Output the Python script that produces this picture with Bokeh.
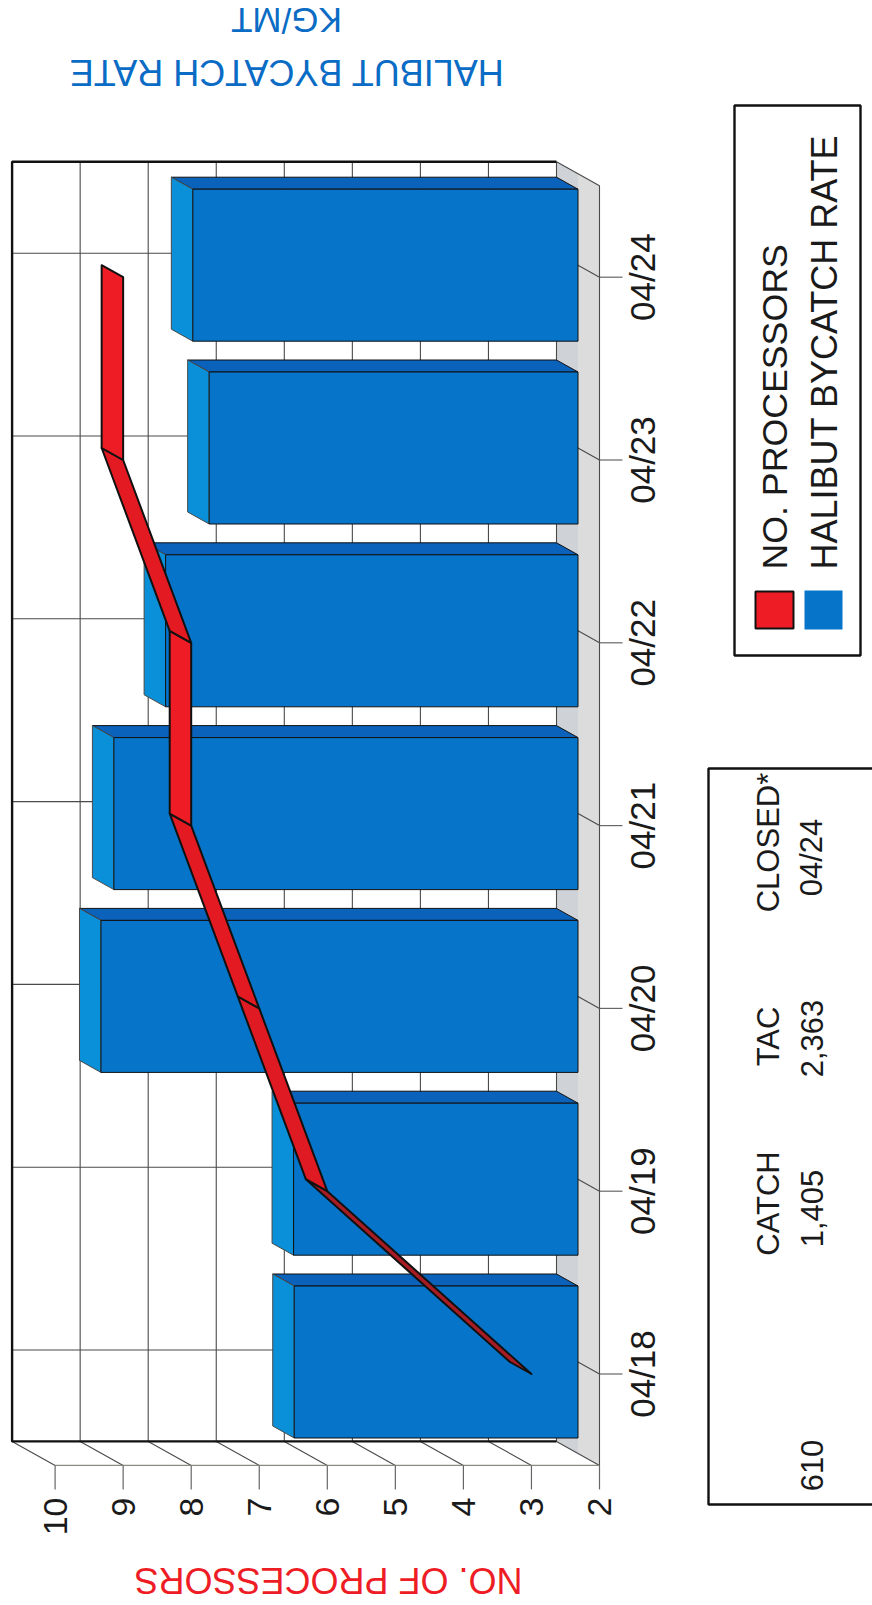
from math import pi
from bokeh.plotting import figure
from bokeh.models import Range1d
from bokeh.core.properties import value
from bokeh.embed import file_html
from bokeh.resources import INLINE

# ---- data ----
DATES = ["04/18", "04/19", "04/20", "04/21", "04/22", "04/23", "04/24"]
PROCESSORS = [3, 6, 7, 8, 8, 9, 9]
BYCATCH = [6.17, 6.18, 9.01, 8.82, 8.06, 7.42, 7.66]
VALUE_TICKS = [2, 3, 4, 5, 6, 7, 8, 9, 10]
TABLE_HEAD = ["CATCH", "TAC", "CLOSED*"]
TABLE_ROW = ["1,405", "2,363", "04/24"]
TABLE_EXTRA = "610"

# ---- geometry of the pseudo-3D projection (style, not data) ----
PXV = 68.05        # px per value unit
PXI = 182.8        # px per category
X0, Y0 = 599, 1373.5   # pixel of value 2 / category 0 on the front plane
DV = 43 / PXV      # depth shift of back wall, value units
DI = 24 / PXI      # depth shift of back wall, category units
HALF = 76 / PXI

W, H = 872, 1605

BLACK = "#111111"
LINE = "#4a4a4a"
INK = "#1a1a1a"
RED = "#ee1c25"
BLUE_T = "#0a6cc4"
BLUE_F = "#0675c9"
BLUE_S = "#0b62bb"
BLUE_L = "#0a90d8"
FONT = value("Liberation Sans")


def vx(px):
    return 2 + (X0 - px) / PXV


def iy(py):
    return (Y0 - py) / PXI


p = figure(
    width=W, height=H, output_backend="svg", toolbar_location=None,
    x_range=Range1d(vx(0), vx(W)), y_range=Range1d(iy(H), iy(0)),
    min_border_left=0, min_border_top=0, min_border_right=0, min_border_bottom=0,
    x_axis_type=None, y_axis_type=None,
    outline_line_color=None, background_fill_color="white",
)
p.grid.visible = False

IMIN, IMAX = -0.5, len(DATES) - 0.5
n = len(DATES)
m = len(VALUE_TICKS)
# floor: back half, front half
p.patch([2 + DV, 2 + DV / 2, 2 + DV / 2, 2 + DV],
        [IMIN + DI, IMIN + DI / 2, IMAX + DI / 2, IMAX + DI],
        fill_color="#cfd2d6", line_color=None)
p.patch([2 + DV / 2, 2, 2, 2 + DV / 2],
        [IMIN + DI / 2, IMIN, IMAX, IMAX + DI / 2],
        fill_color="#dcdcdc", line_color=None)

# wall gridlines
p.segment([v + DV for v in VALUE_TICKS], [IMIN + DI] * m,
          [v + DV for v in VALUE_TICKS], [IMAX + DI] * m,
          line_color=LINE, line_width=1.1)
p.segment([2 + DV] * n, [i + DI for i in range(n)],
          [10 + DV] * n, [i + DI for i in range(n)],
          line_color=LINE, line_width=1.1)
# floor depth lines
p.segment([v + DV for v in VALUE_TICKS], [IMIN + DI] * m,
          VALUE_TICKS, [IMIN] * m, line_color=LINE, line_width=1.1)
p.segment([2 + DV] * n, [i + DI for i in range(n)],
          [2] * n, list(range(n)), line_color=LINE, line_width=1.1)
p.line([2 + DV, 2, 2], [IMAX + DI, IMAX, IMIN], line_color=LINE, line_width=1.1)
# front edge of floor, value axis line and ticks
p.line([10, 2], [IMIN, IMIN], line_color="#8a8a80", line_width=1.2)
VTICK = 24 / PXI
p.segment(VALUE_TICKS, [IMIN] * m, VALUE_TICKS, [IMIN - VTICK] * m,
          line_color="#666666", line_width=1.2)
p.text(VALUE_TICKS, [iy(1497)] * m, text=[str(v) for v in VALUE_TICKS], angle=pi / 2,
       text_font=FONT, text_font_size="34px", text_color=INK,
       text_align="right", text_baseline="middle")
# wall outline
p.line([2 + DV, 10 + DV, 10 + DV, 2 + DV],
       [IMAX + DI, IMAX + DI, IMIN + DI, IMIN + DI],
       line_color=BLACK, line_width=2.4)

# category ticks and labels
TICK = 23 / PXV
p.segment([2] * n, list(range(n)), [2 - TICK] * n, list(range(n)),
          line_color="#666666", line_width=1.2)
p.text([vx(642)] * n, list(range(n)), text=DATES, angle=pi / 2,
       text_font=FONT, text_font_size="35px", text_color=INK,
       text_align="center", text_baseline="middle")

# bars, each with its two receding faces
DBV, DBI = DV / 2, DI / 2
for i, v in enumerate(BYCATCH):
    c = i + DBI
    lo, hi = c - HALF, c + HALF
    base = 2 + DBV
    top = v + DBV
    p.patch([base, top, top + DBV, base + DBV],
            [hi, hi, hi + DBI, hi + DBI], fill_color=BLUE_S,
            line_color=BLACK, line_width=1)
    p.patch([top, top + DBV, top + DBV, top],
            [lo, lo + DBI, hi + DBI, hi], fill_color=BLUE_L,
            line_color=LINE, line_width=1)
    p.quad(left=[top], right=[base], bottom=[lo], top=[hi], fill_color=BLUE_F,
           line_color=BLACK, line_width=1)

# processors ribbon
SHADES = ["#a81c24", "#e01a22", "#e41a22", RED, "#e41a22", RED]
for i in range(n - 1):
    a, b = PROCESSORS[i], PROCESSORS[i + 1]
    p.patch([a, b, b + DBV, a + DBV],
            [i, i + 1, i + 1 + DBI, i + DBI],
            fill_color=SHADES[i], line_color=BLACK, line_width=2, line_join="round")


def txt(s, x, y, size, color=INK, angle=pi / 2, align="center"):
    p.text([vx(x)], [iy(y)], text=[s], angle=angle, text_font=FONT,
           text_font_size=f"{size}px", text_color=color,
           text_align=align, text_baseline="middle")


def box(x0, y0, x1, y1, fill=None, line=None, lw=2.4):
    p.quad(left=[vx(x0)], right=[vx(x1)], top=[iy(y0)], bottom=[iy(y1)],
           fill_color=fill, line_color=line, line_width=lw)


# titles (upside down)
txt("NO. OF PROCESSORS", 328, 1580, 36, RED, pi)
txt("HALIBUT BYCATCH RATE", 286, 72, 36, BLUE_T, pi)
txt("KG/MT", 286, 20, 35, BLUE_T, pi)

# legend
box(734, 105, 860, 655, line=BLACK)
box(755, 591, 793, 628, fill=RED, line=BLACK, lw=2)
box(804, 590, 842, 629, fill=BLUE_F)
txt("NO. PROCESSORS", 774.5, 569, 35.7, align="left")
txt("HALIBUT BYCATCH RATE", 823.5, 569, 36, align="left")

# table
box(708, 768, 900, 1504, line=BLACK)
for s, y in zip(TABLE_HEAD, [1203, 1036, 842]):
    txt(s, 768, y, 31)
for s, y in zip(TABLE_ROW, [1208, 1038, 857]):
    txt(s, 811, y, 31)
txt(TABLE_EXTRA, 811, 1465, 31)

open("out.html", "w").write(file_html(p, INLINE))
